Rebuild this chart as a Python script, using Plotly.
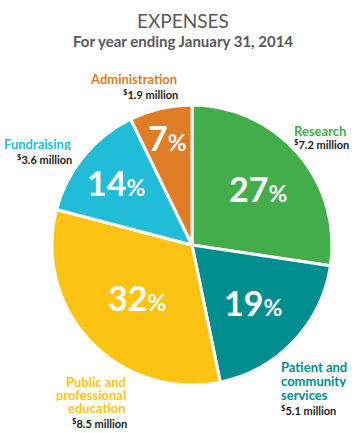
import math
import plotly.graph_objects as go

categories = ["Research", "Patient and<br>community<br>services", "Public and<br>professional<br>education", "Fundraising", "Administration"]
amounts = [7.2, 5.1, 8.5, 3.6, 1.9]  # $ million
pct_labels = ["27", "19", "32", "14", "7"]
money_labels = ["7.2", "5.1", "8.5", "3.6", "1.9"]
colors = ["#43ad4b", "#008d90", "#fdc313", "#21bcd8", "#e07b26"]

FONT = "Lato"
W, H = 355, 433
# pie geometry (canvas pixels)
CX, CY, R = 192, 245, 140
# radial position of the percentage text, as a fraction of the radius
pct_radius = [0.62, 0.6, 0.54, 0.7, 0.79]

fig = go.Figure()
fig.add_trace(go.Pie(
    values=amounts,
    labels=[c.replace("<br>", " ") for c in categories],
    sort=False,
    direction="clockwise",
    rotation=0,
    marker=dict(colors=colors, line=dict(color="white", width=3)),
    textinfo="none",
    domain=dict(x=[(CX - R) / W, (CX + R) / W], y=[1 - (CY + R) / H, 1 - (CY - R) / H]),
    showlegend=False,
    hoverinfo="skip",
))

annotations = []

# percentage labels at the middle angle of each slice
total = sum(amounts)
cum = 0.0
for amt, p, rf in zip(amounts, pct_labels, pct_radius):
    mid = (cum + amt / 2) / total * 2 * math.pi
    cum += amt
    px = CX + rf * R * math.sin(mid)
    py = CY - rf * R * math.cos(mid)
    annotations.append(dict(
        x=px / W, y=1 - py / H, xref="paper", yref="paper",
        xanchor="center", yanchor="middle", showarrow=False,
        text=f"<b>{p}<span style='font-size:23px'>%</span></b>",
        font=dict(family=FONT, size=34, color="white"),
    ))

# category labels: (x, y of first line centre, anchor, line height, money y) in canvas pixels
label_pos = [
    (293, 130, "left", 15, 144),
    (280, 366, "left", 14, 410),
    (127, 381, "right", 13, 423),
    (72, 143, "right", 15, 159),
    (178, 79, "right", 15, 94),
]
for cat, money, col, (px, py, anchor, lh, my) in zip(categories, money_labels, colors, label_pos):
    for i, line in enumerate(cat.split("<br>")):
        annotations.append(dict(
            x=px / W, y=1 - (py + i * lh) / H, xref="paper", yref="paper",
            xanchor=anchor, yanchor="middle", showarrow=False,
            height=13, borderpad=0,
            text=f"<b>{line}</b>",
            font=dict(family=FONT, size=13, color=col),
        ))
    annotations.append(dict(
        x=(px + (1 if anchor == "right" else 0)) / W, y=1 - my / H, xref="paper", yref="paper",
        xanchor=anchor, yanchor="middle", showarrow=False,
        height=12, borderpad=0,
        text="<b><sup>$</sup>" + money + " million</b>",
        font=dict(family=FONT, size=11, color="#1a1a1a"),
    ))

annotations.append(dict(
    x=183 / W, y=1 - 20 / H, xref="paper", yref="paper", xanchor="center", yanchor="middle",
    showarrow=False, text="EXPENSES", font=dict(family=FONT, size=19, color="#58595b"),
))
annotations.append(dict(
    x=183 / W, y=1 - 41 / H, xref="paper", yref="paper", xanchor="center", yanchor="middle",
    showarrow=False, text="<b>For year ending January 31, 2014</b>",
    font=dict(family=FONT, size=15, color="#58595b"),
))

fig.update_layout(
    width=W, height=H,
    margin=dict(l=0, r=0, t=0, b=0),
    paper_bgcolor="white", plot_bgcolor="white",
    annotations=annotations,
)

fig.write_html(
    "out.html",
    config={"displayModeBar": False},
    post_script="document.body.style.margin='0';document.body.style.overflow='hidden';",
)
